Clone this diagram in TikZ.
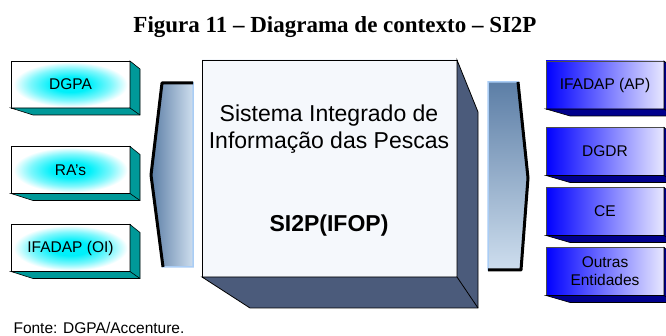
\documentclass[tikz,border=0pt]{standalone}
\usepackage{fontspec}
\setmainfont{Liberation Sans}
\newfontfamily\titlefont{Liberation Serif}
\usepackage{xcolor}
\usepackage{tikz}
\usetikzlibrary{calc,positioning}

\definecolor{tealside}{RGB}{0,153,153}
\definecolor{navyside}{RGB}{0,0,140}
\definecolor{sysside}{RGB}{75,91,123}
\definecolor{sysmid}{RGB}{125,156,203}
\definecolor{sysedge}{RGB}{245,248,252}
\definecolor{brdark}{RGB}{92,126,166}
\definecolor{brlight}{RGB}{206,222,238}
\definecolor{brborder}{RGB}{170,205,245}
\definecolor{boxlav}{RGB}{232,232,255}
\definecolor{glowcyan}{RGB}{0,240,250}
\pgfdeclareradialshading{boxglow}{\pgfpoint{0bp}{0bp}}{color(0bp)=(glowcyan);color(8bp)=(glowcyan);color(17bp)=(glowcyan!50!white);color(24bp)=(white);color(50bp)=(white)}

\begin{document}
\begin{tikzpicture}[x=1pt,y=-1pt,
	leftbox/.style={draw=black,line width=0.6pt,outer sep=0pt,minimum width=119pt,minimum height=47pt,
		shading=boxglow,font=\fontsize{15.5}{18}\selectfont},
	rightbox/.style={draw=black!70,line width=0.6pt,outer sep=0pt,minimum width=118pt,minimum height=48pt,
		left color=blue,right color=boxlav,align=center,font=\fontsize{15.5}{18}\selectfont},
	sysbox/.style={draw=black,line width=0.8pt,outer sep=0pt,minimum width=255pt,minimum height=217pt,
		left color=sysedge,middle color=sysmid,right color=sysedge},
	side/.style={draw=black,line width=0.6pt}]
	\useasboundingbox (0,0) rectangle (666,336);
	\clip (0,0) rectangle (666,336);
	\node[font=\titlefont\bfseries\fontsize{23}{27}\selectfont,anchor=base] (title) at (335,33) {Figura 11 – Diagrama de contexto – SI2P};
	\node[leftbox] (dgpa) at (70.5,84.5) {DGPA};
	\node[leftbox] (ras) at (70.5,170) {RA’s};
	\node[leftbox] (ifaoi) at (70.5,248) {IFADAP (OI)};
	\foreach \b in {dgpa,ras,ifaoi}{
		\filldraw[side,fill=tealside] (\b.south west) -- ++(22,7) -| ($(\b.north east)+(10,8)$) -- (\b.north east) -- (\b.south east) -- cycle;
		\draw[side] (\b.south east) -- ++(10,7);
	}
	\node[rightbox] (ifaap) at (605,85) {IFADAP (AP)};
	\node[rightbox] (dgdr) at (605,151.5) {DGDR};
	\node[rightbox] (ce) at (605,211.5) {CE};
	\node[rightbox] (outras) at (605,271.5) {Outras\\Entidades};
	\foreach \b in {ifaap,dgdr,ce,outras}{
		\filldraw[side,fill=navyside] (\b.south west) -- ++(24,7) -| ($(\b.north east)+(10,8)$) -- (\b.north east) -- (\b.south east) -- cycle;
		\draw[side] (\b.south east) -- ++(10,7);
	}
	\node[sysbox] (sys) at (329.5,168.5) {};
	\filldraw[side,line width=0.8pt,fill=sysside] (sys.south west) -- ++(48,31) -| ($(sys.north east)+(21,52)$) -- (sys.north east) -- (sys.south east) -- cycle;
	\draw[side,line width=0.8pt] (sys.south east) -- ++(21,31);
	\node[font=\fontsize{23}{27}\selectfont,align=center] (sysname) at (329,129) {Sistema Integrado de\\Informação das Pescas};
	\node[font=\bfseries\fontsize{23}{27}\selectfont] (sysabbr) at (329,226) {SI2P(IFOP)};
	\coordinate (lb1) at (162,83);
	\coordinate (lb2) at (193,83);
	\coordinate (lb3) at (193,267);
	\coordinate (lb4) at (163,267);
	\coordinate (lb5) at (151,175);
	\fill[gray!55,shift={(-7,-10)}] (lb1) -- (lb2) -- (lb3) -- (lb4) -- (lb5) -- cycle;
	\shade[left color=brdark,right color=brlight] (lb1) -- (lb2) -- (lb3) -- (lb4) -- (lb5) -- cycle;
	\draw[brborder,line width=1.5pt] (lb1) -- (lb2) -- (lb3) -- (lb4) -- (lb5) -- cycle;
	\draw[black,line width=3pt,line join=round] (lb4) -- (lb5) -- (lb1) -- (lb2);
	\coordinate (rb1) at (488,82);
	\coordinate (rb2) at (518,82);
	\coordinate (rb3) at (528,178);
	\coordinate (rb4) at (521,270);
	\coordinate (rb5) at (488,270);
	\fill[gray!55,shift={(6,6)}] (rb1) -- (rb2) -- (rb3) -- (rb4) -- (rb5) -- cycle;
	\shade[top color=brdark,bottom color=brlight] (rb1) -- (rb2) -- (rb3) -- (rb4) -- (rb5) -- cycle;
	\draw[brborder,line width=1.5pt] (rb1) -- (rb2) -- (rb3) -- (rb4) -- (rb5) -- cycle;
	\draw[black,line width=3pt,line join=round] (rb2) -- (rb3) -- (rb4) -- (rb5);
	\node[font=\fontsize{15.5}{18}\selectfont,anchor=base west] (fonte) at (10,333) {Fonte: DGPA/Accenture.};
\end{tikzpicture}
\end{document}
